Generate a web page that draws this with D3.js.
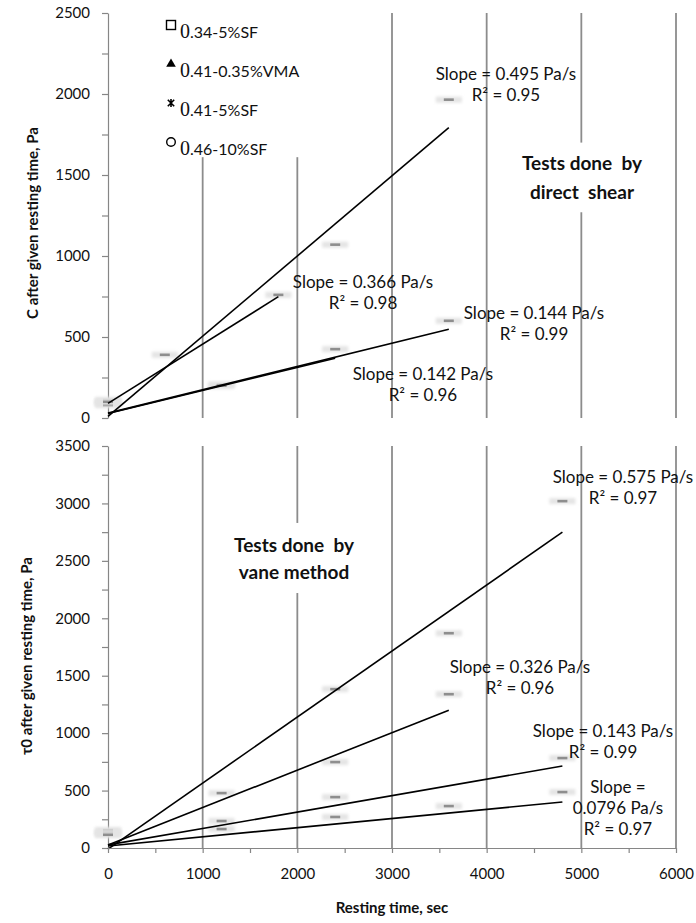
<!DOCTYPE html>
<html>
<head>
<meta charset="utf-8">
<script src="https://cdn.jsdelivr.net/npm/d3@7"></script>
<style>
  body { margin: 0; background: #fff; }
  svg text { font-family: Lato, "Open Sans", sans-serif; fill: #111; }
</style>
</head>
<body>
<svg id="chart" width="696" height="923"></svg>
<script>
// ---- series ----
const seriesNames = ["0.34-5%SF", "0.41-0.35%VMA", "0.41-5%SF", "0.46-10%SF"];
const seriesSymbols = ["square", "triangle", "star", "circle"];

// ---- tick labels ----
const timeTicks = [0, 1000, 2000, 3000, 4000, 5000, 6000];
const shearTicks = [0, 500, 1000, 1500, 2000, 2500];
const vaneTicks = [0, 500, 1000, 1500, 2000, 2500, 3000, 3500];

// ---- direct shear: cohesion C (Pa) after resting time (s) ----
const shearTime1 = [0, 2400, 3600];
const shearC1 = [110, 1070, 1965];
const shearTime2 = [0, 600, 1800];
const shearC2 = [95, 390, 760];
const shearTime3 = [0, 1200, 3600];
const shearC3 = [80, 205, 600];
const shearTime4 = [0, 1200, 2400];
const shearC4 = [100, 200, 425];

// linear fits (slope Pa/s, intercept Pa, last resting time s, R²)
const shearSlope = [0.495, 0.366, 0.144, 0.142];
const shearIntercept = [10, 90, 30, 28];
const shearFitEnd = [3600, 1800, 3600, 2400];
const shearR2 = [0.95, 0.98, 0.99, 0.96];

// ---- vane method: yield stress τ0 (Pa) after resting time (s) ----
const vaneTime1 = [0, 1200, 2400, 3600, 4800];
const vaneTau1 = [155, 478, 1383, 1870, 3020];
const vaneTime2 = [0, 2400, 3600];
const vaneTau2 = [140, 748, 1339];
const vaneTime3 = [0, 1200, 2400, 4800];
const vaneTau3 = [125, 235, 443, 783];
const vaneTime4 = [0, 1200, 2400, 3600, 4800];
const vaneTau4 = [115, 165, 270, 365, 487];

const vaneSlope = [0.575, 0.326, 0.143, 0.0796];
const vaneIntercept = [-10, 26, 27, 18];
const vaneFitEnd = [4800, 3600, 4800, 4800];
const vaneR2 = [0.97, 0.96, 0.99, 0.97];

// ---- drawing ----
const svg = d3.select("#chart");
const defs = svg.append("defs");
defs.append("filter").attr("id", "haze").attr("x", "-50%").attr("y", "-200%").attr("width", "200%").attr("height", "500%")
  .append("feGaussianBlur").attr("stdDeviation", 1.6);
defs.append("filter").attr("id", "soft").attr("x", "-50%").attr("y", "-200%").attr("width", "200%").attr("height", "500%")
  .append("feGaussianBlur").attr("stdDeviation", 0.6);

const x = d3.scaleLinear().domain([0, 6000]).range([108, 676]);
const gridColor = "#8c8c8c";
const axisColor = "#868686";

function zip(ts, vs) { return ts.map((t, i) => ({ t, v: vs[i] })); }

function drawPanel(cfg) {
  const y = d3.scaleLinear().domain([0, cfg.max]).range(cfg.range);
  const g = svg.append("g");

  // vertical gridlines
  g.selectAll("line.grid").data(timeTicks.filter(d => d > 0)).join("line")
    .attr("x1", d => x(d)).attr("x2", d => x(d))
    .attr("y1", y(cfg.max)).attr("y2", y(0))
    .attr("stroke", gridColor).attr("stroke-width", 1.8);

  // white boxes behind the text blocks
  cfg.boxes.forEach(b => {
    g.append("rect")
      .attr("x", x(b.t0)).attr("y", y(b.v1))
      .attr("width", x(b.t1) - x(b.t0)).attr("height", y(b.v0) - y(b.v1))
      .attr("fill", "#fff");
  });

  // y axis
  const yAxis = d3.axisLeft(y)
    .tickValues(d3.range(0, cfg.max + 1, 250))
    .tickSize(6).tickSizeOuter(0).tickPadding(12)
    .tickFormat(d => (d % 500 === 0 ? d : ""));
  const ya = g.append("g").attr("transform", `translate(${x(0)},0)`).call(yAxis);
  ya.select(".domain").attr("stroke", axisColor).attr("stroke-width", 1.2);
  ya.selectAll(".tick line").attr("stroke", axisColor).attr("stroke-width", 1.2);
  ya.selectAll(".tick text").style("font-size", "15px").attr("fill", "#1a1a1a");

  // y title
  g.append("text")
    .attr("transform", `translate(${cfg.titleX},${cfg.titleY}) rotate(-90)`)
    .attr("text-anchor", "middle").attr("dy", "0.35em")
    .style("font-size", "15px").style("font-weight", "bold")
    .text(cfg.title);

  // data points (soft grey marks)
  cfg.series.forEach(s => {
    const pts = zip(s.t, s.v);
    const pg = g.append("g");
    pg.selectAll("rect.halo").data(pts).join("rect")
      .attr("x", d => x(d.t) - 13).attr("y", d => y(d.v) - 3)
      .attr("width", 26).attr("height", 6)
      .attr("fill", "#e4e4e4").attr("filter", "url(#haze)");
    pg.selectAll("rect.core").data(pts).join("rect")
      .attr("x", d => x(d.t) - 5).attr("y", d => y(d.v) - 1.3)
      .attr("width", 10).attr("height", 2.6)
      .attr("fill", "#8e8e8e").attr("filter", "url(#soft)");
  });

  // fitted lines
  cfg.slope.forEach((m, i) => {
    const b = cfg.intercept[i];
    const tEnd = cfg.fitEnd[i];
    const line = d3.line().x(d => x(d)).y(d => y(m * d + b));
    g.append("path").datum([0, tEnd]).attr("d", line)
      .attr("fill", "none").attr("stroke", "#000").attr("stroke-width", 1.6);
  });

  // fit annotations
  cfg.notes.forEach((n, i) => {
    const lines = n.lines || [`Slope = ${cfg.slope[i]} Pa/s`, `R² = ${cfg.r2[i].toFixed(2)}`];
    const t = g.append("text").attr("text-anchor", "middle").style("font-size", "17px");
    lines.forEach((s, k) => {
      t.append("tspan").attr("x", x(n.t)).attr("y", y(n.v) + k * 21).attr("dy", "0.35em").text(s);
    });
  });

  // method caption
  const c = cfg.caption;
  const ct = g.append("text").attr("text-anchor", "middle")
    .style("font-size", "19px").style("font-weight", "bold").style("white-space", "pre");
  c.lines.forEach((s, k) => {
    ct.append("tspan").attr("x", x(c.t)).attr("y", y(c.v) + k * c.gap).attr("dy", "0.35em").text(s);
  });

  return y;
}

// upper panel: direct shear
drawPanel({
  max: 2500, range: [418, 13],
  title: "C after given resting time,  Pa", titleX: 33, titleY: 223,
  series: [
    { t: shearTime1, v: shearC1 }, { t: shearTime2, v: shearC2 },
    { t: shearTime3, v: shearC3 }, { t: shearTime4, v: shearC4 }
  ],
  slope: shearSlope, intercept: shearIntercept, fitEnd: shearFitEnd, r2: shearR2,
  boxes: [
    { t0: 560, t1: 2200, v0: 1610, v1: 2500 },
    { t0: 4330, t1: 5750, v0: 1270, v1: 1700 }
  ],
  notes: [
    { t: 4204, v: 2123 }, { t: 2694, v: 840 }, { t: 4500, v: 648 }, { t: 3327, v: 272 }
  ],
  caption: { t: 5007, v: 1574, gap: 29, lines: ["Tests done  by", "direct  shear"] }
});

// lower panel: vane method
const yVane = drawPanel({
  max: 3500, range: [848, 446],
  title: "τ0 after given resting time,  Pa", titleX: 27, titleY: 656,
  series: [
    { t: vaneTime1, v: vaneTau1 }, { t: vaneTime2, v: vaneTau2 },
    { t: vaneTime3, v: vaneTau3 }, { t: vaneTime4, v: vaneTau4 }
  ],
  slope: vaneSlope, intercept: vaneIntercept, fitEnd: vaneFitEnd, r2: vaneR2,
  boxes: [
    { t0: 1270, t1: 2650, v0: 2220, v1: 2830 }
  ],
  notes: [
    { t: 5440, v: 3230 }, { t: 4352, v: 1576 }, { t: 5229, v: 1019 },
    { t: 5387, v: 531, lines: ["Slope =", `${vaneSlope[3]} Pa/s`, `R² = ${vaneR2[3].toFixed(2)}`] }
  ],
  caption: { t: 1965, v: 2638, gap: 27, lines: ["Tests done  by", "vane method"] }
});

// time axis under the lower panel
const xAxis = d3.axisBottom(x)
  .tickValues(d3.range(0, 6001, 500))
  .tickSize(5).tickSizeOuter(0).tickPadding(15)
  .tickFormat(d => (timeTicks.includes(d) ? d : ""));
const xa = svg.append("g").attr("transform", `translate(0,${yVane(0)})`).call(xAxis);
xa.select(".domain").attr("stroke", axisColor).attr("stroke-width", 1.2);
xa.selectAll(".tick line").attr("stroke", axisColor).attr("stroke-width", 1.2);
xa.selectAll(".tick text").style("font-size", "15px").attr("fill", "#1a1a1a");

svg.append("text")
  .attr("x", 392).attr("y", 908).attr("dy", "0.35em").attr("text-anchor", "middle")
  .style("font-size", "15px").style("font-weight", "bold")
  .text("Resting time, sec");

// legend
const legend = svg.append("g").attr("transform", "translate(171,25)");
const rowGap = 39;
seriesNames.forEach((name, i) => {
  const row = legend.append("g").attr("transform", `translate(0,${i * rowGap})`);
  const sym = seriesSymbols[i];
  if (sym === "square") {
    row.append("rect").attr("x", -4.5).attr("y", -4.5).attr("width", 9).attr("height", 9)
      .attr("fill", "none").attr("stroke", "#000").attr("stroke-width", 1.4);
  } else if (sym === "triangle") {
    row.append("path").attr("d", d3.symbol(d3.symbolTriangle, 40)()).attr("fill", "#000");
  } else if (sym === "star") {
    row.append("path").attr("d", "M-3.2,-3.2L3.2,3.2M-3.2,3.2L3.2,-3.2M0,-4V4")
      .attr("stroke", "#000").attr("stroke-width", 1.6);
  } else {
    row.append("circle").attr("r", 4.3).attr("fill", "none").attr("stroke", "#000").attr("stroke-width", 1.4);
  }
  const txt = row.append("text").attr("x", 9).attr("y", 7).attr("dy", "0.35em").style("font-size", "16px");
  txt.append("tspan").style("font-family", "'Liberation Serif', 'DejaVu Serif', serif").style("font-size", "20px")
    .text(name.charAt(0));
  txt.append("tspan").text(name.slice(1));
});
</script>
</body>
</html>
